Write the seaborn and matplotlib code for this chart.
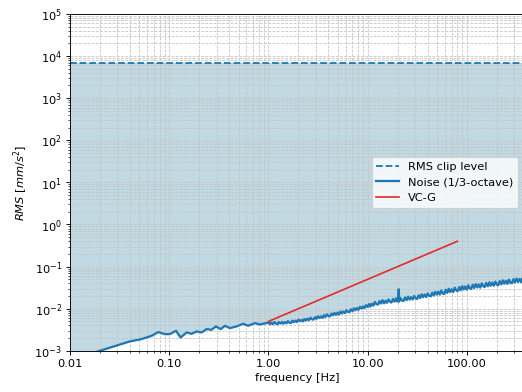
import numpy as np
import pandas as pd
import matplotlib
matplotlib.use("Agg")
import matplotlib.pyplot as plt
from matplotlib.ticker import FormatStrFormatter, LogLocator, NullFormatter
import seaborn as sns

# noise spectrum (1/3-octave RMS)
noise_freq = [0.01, 0.02, 0.040, 0.0527, 0.0666, 0.0776, 0.0906, 0.1016, 0.117, 0.130,
              0.150, 0.168, 0.189, 0.212, 0.238, 0.267, 0.295, 0.33, 0.364, 0.408,
              0.476, 0.556, 0.624, 0.729, 0.818, 0.955,
              1.00, 1.04, 1.07, 1.11, 1.15, 1.19, 1.23, 1.27, 1.32, 1.37,
              1.41, 1.46, 1.52, 1.57, 1.62, 1.68, 1.74, 1.80, 1.87, 1.93,
              2.00, 2.07, 2.15, 2.22, 2.30, 2.38, 2.47, 2.56, 2.65, 2.74,
              2.84, 2.94, 3.04, 3.15, 3.26, 3.38, 3.50, 3.62, 3.75, 3.88,
              4.02, 4.16, 4.31, 4.46, 4.62, 4.78, 4.95, 5.13, 5.31, 5.50,
              5.69, 5.89, 6.10, 6.32, 6.54, 6.77, 7.01, 7.26, 7.52, 7.78,
              8.06, 8.35, 8.64, 8.95, 9.26, 9.59, 9.93,
              10.3, 10.6, 11.0, 11.4, 11.8, 12.2, 12.7, 13.1, 13.6, 14.1,
              14.6, 15.1, 15.6, 16.2, 16.8, 17.3, 18.0, 18.6, 19.3, 19.9,
              20.3, 20.5, 20.7, 21.3, 22.2, 22.9, 23.8, 24.6, 25.5, 26.4,
              27.3, 28.3, 29.3, 30.4, 31.5, 32.6, 33.8, 35.0, 36.2, 37.5,
              38.8, 40.2, 41.6, 43.1, 44.6, 46.2, 47.8, 49.5,
              51.3, 53.1, 55.0, 56.9, 58.9, 61.0, 63.2, 65.4, 67.7, 70.1,
              72.6, 75.2, 77.8, 80.6, 83.5, 86.4, 89.5, 92.6, 95.9, 99.3,
              103, 106, 110, 114, 118, 122, 127, 131, 136, 141,
              146, 151, 156, 162, 168, 173, 180, 186, 193, 199,
              206, 213, 221, 229, 237, 246, 255, 264, 273, 283,
              293, 304, 315, 326, 338, 350, 362, 371]
# values in 1e-3 mm/s^2
noise_rms_milli = [0.60, 1.00, 1.67, 1.90, 2.28, 2.78, 2.49, 2.49, 2.99, 2.07,
                   2.73, 2.54, 2.88, 2.73, 3.28, 3.16, 3.80, 3.28, 3.93, 3.46,
                   3.80, 4.39, 3.93, 4.55, 4.24, 4.55,
                   4.73, 4.29, 4.69, 4.28, 4.83, 4.43, 4.26, 4.82, 4.43, 4.84,
                   4.40, 4.80, 4.51, 5.09, 4.66, 4.56, 5.20, 4.75, 5.22, 4.82,
                   5.51, 5.04, 5.41, 4.99, 5.72, 5.24, 5.82, 5.33, 6.10, 5.65,
                   5.49, 6.30, 5.73, 6.63, 5.99, 6.59, 6.05, 7.02, 6.35, 7.33,
                   6.67, 6.58, 7.63, 6.96, 7.97, 7.13, 8.09, 7.30, 8.56, 7.74,
                   8.63, 7.86, 9.20, 8.43, 8.32, 9.67, 8.74, 10.2, 9.22, 10.4,
                   9.39, 11.1, 10.1, 11.3, 10.3, 12.1, 11.0,
                   12.9, 11.2, 13.2, 11.8, 14.5, 12.8, 12.5, 15.2, 13.3, 16.0,
                   13.4, 15.5, 13.8, 16.6, 14.6, 14.0, 17.0, 14.7, 17.6, 14.8,
                   17.2, 29.0, 14.8, 18.0, 15.7, 15.2, 18.5, 15.9, 19.3, 16.5,
                   18.8, 16.6, 20.1, 17.6, 17.1, 20.8, 18.0, 21.9, 18.8, 21.7,
                   18.9, 23.0, 20.2, 19.6, 24.0, 20.7, 25.2, 21.6,
                   25.3, 21.6, 27.1, 23.1, 22.4, 28.2, 23.8, 29.7, 24.8, 29.0,
                   24.8, 31.5, 27.2, 26.1, 32.7, 27.5, 34.3, 28.5, 33.7, 28.4,
                   35.9, 30.5, 29.5, 37.0, 30.9, 38.5, 32.0, 37.7, 31.7, 40.0,
                   33.9, 32.8, 40.9, 34.1, 42.4, 35.2, 41.6, 35.0, 44.1, 37.4,
                   36.1, 45.2, 37.9, 47.2, 39.2, 46.1, 38.8, 49.0, 41.5, 40.1,
                   50.2, 42.0, 52.1, 43.2, 50.8, 42.7, 53.7, 46.4]

clip_level = 7000.0
clip_freq = [0.01, 371]

vcg_freq = [1.0, 80.0]
vcg_rms = [0.005, 0.4]

noise = pd.DataFrame({"freq": noise_freq, "rms": np.array(noise_rms_milli) * 1e-3})
clip = pd.DataFrame({"freq": clip_freq, "rms": [clip_level] * len(clip_freq)})
vcg = pd.DataFrame({"freq": vcg_freq, "rms": vcg_rms})

fig = plt.figure(figsize=(6.4, 4.8), dpi=81.7)
ax = fig.add_axes([0.1338, 0.105, 0.8675, 0.859])
ax.set_xscale("log")
ax.set_yscale("log")

ax.fill_between(noise["freq"], noise["rms"], clip_level, color="#c0d9e3", zorder=1, linewidth=0)

sns.lineplot(data=clip, x="freq", y="rms", ax=ax, color="C0", linestyle="--",
             linewidth=1.6, label="RMS clip level", estimator=None, sort=False)
sns.lineplot(data=noise, x="freq", y="rms", ax=ax, color="C0", linewidth=2.0,
             label="Noise (1/3-octave)", estimator=None, sort=False)
sns.lineplot(data=vcg, x="freq", y="rms", ax=ax, color="#e0302e", linewidth=1.5,
             label="VC-G", estimator=None, sort=False)

ax.set_xlim(0.01, 371)
ax.set_ylim(1e-3, 1e5)
ax.xaxis.set_major_formatter(FormatStrFormatter("%.2f"))
ax.xaxis.set_minor_locator(LogLocator(base=10, subs=np.arange(2, 10), numticks=100))
ax.yaxis.set_major_locator(LogLocator(base=10, numticks=20))
ax.yaxis.set_minor_locator(LogLocator(base=10, subs=np.arange(2, 10), numticks=100))
ax.xaxis.set_minor_formatter(NullFormatter())
ax.yaxis.set_minor_formatter(NullFormatter())
ax.grid(True, which="both", linestyle="--", color="#c4c4c4", linewidth=0.7)
ax.spines["right"].set_visible(False)

ax.set_xlabel("frequency [Hz]")
ax.set_ylabel(r"$RMS\ [mm/s^2]$")
ax.legend(loc="center right")

fig.savefig("out.png", dpi=81.7)
